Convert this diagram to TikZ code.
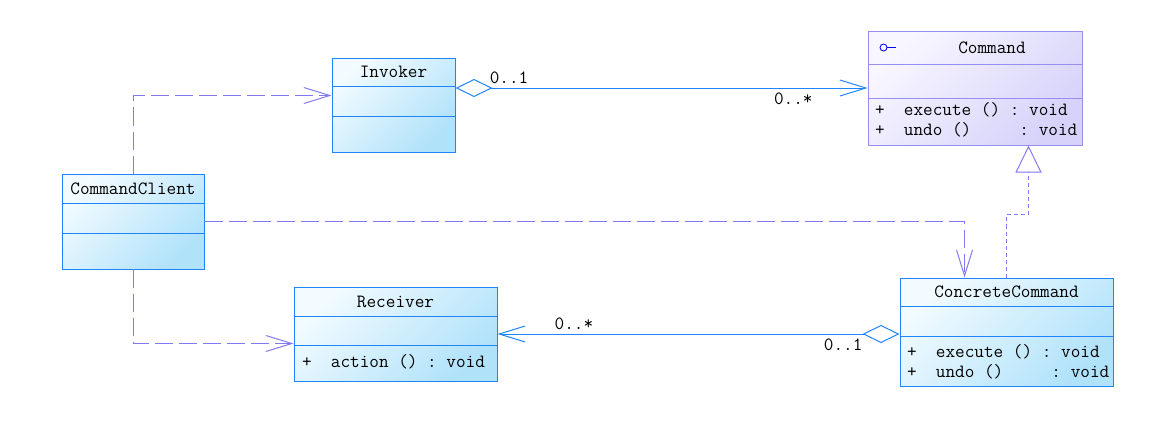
\documentclass[tikz,border=0pt]{standalone}
\usetikzlibrary{arrows.meta,calc,positioning}
\definecolor{umlblue}{RGB}{30,132,250}
\definecolor{bluelight}{RGB}{242,251,255}
\definecolor{bluedark}{RGB}{176,226,250}
\definecolor{umlpurple}{RGB}{150,142,240}
\definecolor{lilaclight}{RGB}{248,247,255}
\definecolor{lilacdark}{RGB}{214,210,250}
\definecolor{depline}{RGB}{128,122,240}
\newcommand{\pxu}{0.025cm}
\newcommand{\compart}[3][umlblue]{\draw[#1] ($(#2.north west)+(0,#3)$) -- ($(#2.north east)+(0,#3)$)}

\begin{document}
\begin{tikzpicture}
[
x=0.025cm, y=-0.025cm, line width=0.7pt,
txt/.style      = {font=\ttfamily\fontsize{13.3}{14.2}\selectfont, inner sep=0pt, text=black, align=left},
bluebox/.style  = {draw=umlblue, top color=bluelight, bottom color=bluedark, shading angle=45, rectangle},
lilacbox/.style = {draw=umlpurple, top color=lilaclight, bottom color=lilacdark, shading angle=45, rectangle},
assoc/.style    = {draw=umlblue},
depend/.style   = {draw=depline, dash pattern=on 0.45cm off 0.15cm},
realize/.style  = {draw=depline, dash pattern=on 0.1cm off 0.075cm},
openhead/.tip   = {Straight Barb[length=0.65cm, width=0.4cm]},
]
\useasboundingbox (0,0) rectangle (1162,442);

% classes
\node[lilacbox, minimum width=214*\pxu, minimum height=114*\pxu] (Command) at (975,88) {};
\compart[umlpurple]{Command}{34};
\compart[umlpurple]{Command}{68};
\node[txt] (cmdtitle) at ($(Command.north)+(17,17)$) {Command};
\node[circle, draw=blue, line width=0.6pt, inner sep=0pt, minimum size=7*\pxu] (cmdicon) at ($(Command.north west)+(16,17)$) {};
\draw[blue, line width=0.6pt] (cmdicon.east) -- ++(9,0);
\node[txt, anchor=west] (cmdops) at ($(Command.south west)+(7,-26)$)
  {+\ \ execute\ ()\ :\ void\\+\ \ undo\ ()\ \ \ \ \ :\ void};

\node[bluebox, minimum width=123*\pxu, minimum height=94*\pxu] (Invoker) at (393.5,105) {};
\compart{Invoker}{29};
\compart{Invoker}{59};
\node[txt] (invtitle) at ($(Invoker.north)+(0,14)$) {Invoker};

\node[bluebox, minimum width=142*\pxu, minimum height=95*\pxu] (CommandClient) at (133,221.5) {};
\compart{CommandClient}{30};
\compart{CommandClient}{60};
\node[txt] (clitle) at ($(CommandClient.north)+(0,15)$) {CommandClient};

\node[bluebox, minimum width=203*\pxu, minimum height=94*\pxu] (Receiver) at (395.5,334) {};
\compart{Receiver}{30};
\compart{Receiver}{59};
\node[txt] (rcvtitle) at ($(Receiver.north)+(0,15)$) {Receiver};
\node[txt, anchor=west] (rcvops) at ($(Receiver.south west)+(8,-20)$) {+\ \ action\ ()\ :\ void};

\node[bluebox, minimum width=213*\pxu, minimum height=108*\pxu] (ConcreteCommand) at (1006.5,332) {};
\compart{ConcreteCommand}{29};
\compart{ConcreteCommand}{59};
\node[txt] (cctitle) at ($(ConcreteCommand.north)+(0,14)$) {ConcreteCommand};
\node[txt, anchor=west] (ccops) at ($(ConcreteCommand.south west)+(7,-25)$)
  {+\ \ execute\ ()\ :\ void\\+\ \ undo\ ()\ \ \ \ \ :\ void};

% relations
\coordinate (cmdfoot) at ($(Command.south east)+(-54,0)$);
\coordinate (invin)   at ($(Invoker.north west)+(0,38)$);
\coordinate (ccin)    at ($(ConcreteCommand.north west)+(65,0)$);
\coordinate (rcvin)   at ($(Receiver.south west)+(0,-38)$);

\draw[assoc, {Diamond[open, length=0.925cm, width=0.45cm]}-openhead]
  (Command.west -| Invoker.east) -- node[txt, pos=0.13, above=3pt] {0..1}
  node[txt, pos=0.82, below=3pt] {0..*} (Command.west);
\draw[assoc, {Diamond[open, length=0.925cm, width=0.45cm]}-openhead]
  (Receiver.east -| ConcreteCommand.west) -- node[txt, pos=0.14, below=3pt] {0..1}
  node[txt, pos=0.81, above=3pt] {0..*} (Receiver.east);
\draw[realize, -{Triangle[open, length=0.675cm, width=0.65cm]}]
  (ConcreteCommand.north) -- ++(0,-63) -| (cmdfoot);
\draw[depend, -openhead] (CommandClient.north) |- (invin);
\draw[depend, -openhead] (CommandClient.east) -| (ccin);
\draw[depend, -openhead] (CommandClient.south) |- (rcvin);
\end{tikzpicture}
\end{document}
